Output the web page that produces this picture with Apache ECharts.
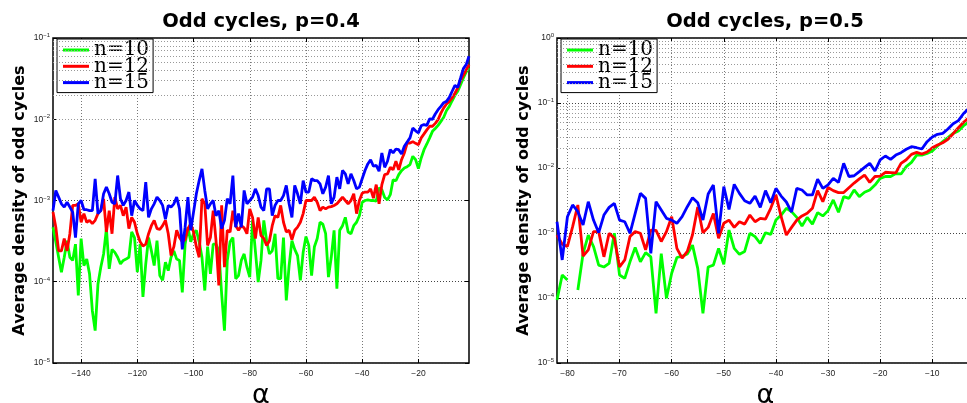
<!DOCTYPE html>
<html>
<head>
<meta charset="utf-8">
<script src="https://cdn.jsdelivr.net/npm/echarts@6/dist/echarts.min.js"></script>
<style>
  html, body { margin: 0; padding: 0; background: #fff; }
  #chart { width: 967px; height: 403px; }
</style>
</head>
<body>
<div id="chart"></div>
<script>
// Legend entries and line colours (graph size n)
const seriesNames = ['n=10', 'n=12', 'n=15'];
const seriesColors = ['#00ff00', '#ff0000', '#0000ff'];

// alpha sample points: p=0.4 runs from -150 to -2, p=0.5 from -82 to -2
const alphaLeft = [];
for (let a = -150; a <= -2; a++) alphaLeft.push(a);
const alphaRight = [];
for (let a = -82; a <= -2; a++) alphaRight.push(a);

// Tick positions on the alpha axes
const xTicksLeft = [-140, -120, -100, -80, -60, -40, -20];
const xTicksRight = [-80, -70, -60, -50, -40, -30, -20, -10];

// Average density of odd cycles, p = 0.4
const leftN10 = [
  4.7e-4, 3.1e-4, 2.0e-4, 1.31e-4, 2.0e-4, 3.2e-4, 2.0e-4, 1.83e-4, 2.9e-4, 6.8e-5,
  3.4e-4, 1.58e-4, 1.9e-4, 1.25e-4, 4.4e-5, 2.5e-5, 9.4e-5, 1.51e-4, 2.2e-4, 4.5e-4,
  1.44e-4, 2.5e-4, 2.3e-4, 2.0e-4, 1.66e-4, 1.83e-4, 1.9e-4, 2.0e-4, 4.1e-4, 3.5e-4,
  1.31e-4, 2.9e-4, 6.5e-5, 1.66e-4, 3.5e-4, 2.4e-4, 1.58e-4, 3.2e-4, 1.19e-4, 1.04e-4,
  1.74e-4, 1.37e-4, 2.0e-4, 2.4e-4, 1.9e-4, 1.83e-4, 7.4e-5, 2.9e-4, 4.7e-4, 3.1e-4,
  3.9e-4, 4.3e-4, 3.1e-4, 2.0e-4, 7.8e-5, 2.7e-4, 1.25e-4, 2.9e-4, 2.9e-4, 2.4e-4,
  7.1e-5, 2.5e-5, 1.83e-4, 3.1e-4, 3.5e-4, 1.09e-4, 1.19e-4, 1.83e-4, 2.2e-4, 1.51e-4,
  1.14e-4, 5.7e-4, 2.4e-4, 9.9e-5, 1.83e-4, 5.7e-4, 3.2e-4, 2.2e-4, 2.4e-4, 3.9e-4,
  1.09e-4, 1.09e-4, 3.5e-4, 5.9e-5, 1.58e-4, 3.2e-4, 2.5e-4, 2.1e-4, 1.04e-4, 2.3e-4,
  3.6e-4, 2.8e-4, 1.19e-4, 2.7e-4, 3.4e-4, 5.4e-4, 5.1e-4, 3.9e-4, 1.14e-4, 2.0e-4,
  4.3e-4, 8.2e-5, 4.3e-4, 4.9e-4, 6.2e-4, 4.1e-4, 3.9e-4, 4.9e-4, 5.4e-4, 6.5e-4,
  9.5e-4, 1.0e-3, 1.02e-3, 1.0e-3, 1.0e-3, 9.8e-4, 1.43e-3, 1.36e-3, 1.09e-3, 1.02e-3,
  1.18e-3, 1.8e-3, 1.75e-3, 2.08e-3, 2.33e-3, 2.51e-3, 2.61e-3, 2.76e-3, 3.5e-3, 3.18e-3,
  2.47e-3, 3.34e-3, 4.22e-3, 4.96e-3, 5.9e-3, 7.1e-3, 7.7e-3, 8.4e-3, 9.4e-3, 1.06e-2,
  1.28e-2, 1.44e-2, 1.69e-2, 1.97e-2, 2.21e-2, 2.67e-2, 3.22e-2, 3.82e-2, 4.28e-2
];
const leftN12 = [
  7.2e-4, 4.7e-4, 2.4e-4, 2.4e-4, 3.4e-4, 2.4e-4, 3.9e-4, 8.7e-4, 8.7e-4, 9.1e-4,
  5.4e-4, 6.9e-4, 5.4e-4, 5.7e-4, 5.2e-4, 5.7e-4, 6.9e-4, 7.5e-4, 1.05e-3, 4.1e-4,
  7.5e-4, 3.9e-4, 1.1e-3, 7.9e-4, 8.7e-4, 6.5e-4, 8.3e-4, 4.5e-4, 6.2e-4, 5.4e-4,
  3.9e-4, 3.1e-4, 2.75e-4, 2.9e-4, 3.9e-4, 4.9e-4, 5.7e-4, 4.5e-4, 4.4e-4, 4.9e-4,
  5.7e-4, 3.9e-4, 2.1e-4, 2.7e-4, 4.3e-4, 3.5e-4, 3.1e-4, 3.3e-4, 4.5e-4, 5.2e-4,
  4.1e-4, 2.7e-4, 2.0e-4, 1.05e-3, 9.1e-4, 2.8e-4, 3.5e-4, 7.5e-4, 3.2e-4, 9.0e-5,
  8.7e-4, 1.51e-4, 4.3e-4, 4.1e-4, 7.5e-4, 4.9e-4, 4.3e-4, 4.9e-4, 4.6e-4, 3.9e-4,
  7.9e-4, 6.2e-4, 3.4e-4, 6.2e-4, 3.7e-4, 3.4e-4, 2.8e-4, 3.2e-4, 4.9e-4, 6.5e-4,
  6.2e-4, 8.7e-4, 5.4e-4, 4.1e-4, 4.3e-4, 3.3e-4, 4.3e-4, 4.7e-4, 5.4e-4, 6.9e-4,
  1.0e-3, 1.0e-3, 1.0e-3, 1.1e-3, 9.5e-4, 7.5e-4, 8.3e-4, 7.9e-4, 8.3e-4, 8.4e-4,
  8.7e-4, 9.1e-4, 1.0e-3, 1.1e-3, 1.0e-3, 9.1e-4, 1.0e-3, 1.21e-3, 6.9e-4, 1.0e-3,
  1.23e-3, 1.27e-3, 1.27e-3, 1.39e-3, 1.07e-3, 1.57e-3, 9.1e-4, 1.57e-3, 2.08e-3, 2.12e-3,
  2.56e-3, 2.39e-3, 3.04e-3, 2.39e-3, 3.18e-3, 3.85e-3, 5.1e-3, 5.1e-3, 5.3e-3, 5.05e-3,
  4.86e-3, 5.9e-3, 6.6e-3, 7.4e-3, 8.2e-3, 8.2e-3, 8.9e-3, 9.9e-3, 1.19e-2, 1.38e-2,
  1.54e-2, 1.66e-2, 1.83e-2, 2.09e-2, 2.43e-2, 2.99e-2, 3.47e-2, 4.04e-2, 4.7e-2
];
const leftN15 = [
  7.5e-4, 1.33e-3, 1.1e-3, 9.1e-4, 8.3e-4, 9.5e-4, 8.3e-4, 7.2e-4, 3.5e-4, 9.1e-4,
  1.0e-3, 7.7e-4, 7.7e-4, 7.5e-4, 7.5e-4, 1.85e-3, 6.9e-4, 7.5e-4, 1.21e-3, 1.46e-3,
  1.21e-3, 9.5e-4, 9.1e-4, 2.03e-3, 1.05e-3, 8.7e-4, 1.0e-3, 1.27e-3, 6.5e-4, 1.0e-3,
  8.7e-4, 7.9e-4, 7.5e-4, 1.68e-3, 6.2e-4, 7.9e-4, 9.1e-4, 1.1e-3, 1.0e-3, 8.7e-4,
  5.9e-4, 8.7e-4, 8.3e-4, 9.1e-4, 1.1e-3, 7.9e-4, 2.5e-4, 4.7e-4, 1.1e-3, 4.3e-4,
  7.2e-4, 1.21e-3, 1.76e-3, 2.45e-3, 1.33e-3, 7.9e-4, 9.1e-4, 1.0e-3, 6.5e-4, 7.5e-4,
  4.5e-4, 5.7e-4, 1.05e-3, 9.1e-4, 2.03e-3, 4.7e-4, 6.9e-4, 4.7e-4, 1.33e-3, 9.1e-4,
  1.0e-3, 1.1e-3, 1.39e-3, 1.15e-3, 8.3e-4, 7.5e-4, 1.39e-3, 1.39e-3, 6.5e-4, 8.7e-4,
  1.0e-3, 1.0e-3, 1.15e-3, 1.53e-3, 9.1e-4, 6.2e-4, 1.53e-3, 1.21e-3, 9.1e-4, 1.76e-3,
  1.27e-3, 1.27e-3, 1.85e-3, 1.76e-3, 1.76e-3, 1.6e-3, 1.21e-3, 1.46e-3, 2.03e-3, 9.1e-4,
  1.1e-3, 1.94e-3, 1.39e-3, 2.34e-3, 2.13e-3, 1.6e-3, 2.13e-3, 1.76e-3, 1.39e-3, 1.46e-3,
  1.85e-3, 2.34e-3, 2.82e-3, 3.18e-3, 2.64e-3, 2.71e-3, 2.29e-3, 3.85e-3, 2.56e-3, 3.04e-3,
  4.22e-3, 3.85e-3, 4.3e-3, 4.22e-3, 3.74e-3, 4.64e-3, 5.25e-3, 5.9e-3, 7.8e-3, 7.2e-3,
  6.8e-3, 8.3e-3, 8.6e-3, 8.4e-3, 1.01e-2, 1.0e-2, 1.16e-2, 1.31e-2, 1.44e-2, 1.6e-2,
  1.66e-2, 1.86e-2, 2.21e-2, 2.61e-2, 2.47e-2, 3.22e-2, 4.2e-2, 4.7e-2, 5.95e-2
];

// Average density of odd cycles, p = 0.5 (null: no odd cycles found, not drawn on a log axis)
const rightN10 = [
  9.3e-5, 2.26e-4, 1.89e-4, null, 1.33e-4, 4.8e-4, 9.3e-4, 6.2e-4, 3.2e-4, 3.0e-4,
  3.4e-4, 9.9e-4, 2.26e-4, 2.0e-4, 3.6e-4, 6.0e-4, 3.6e-4, 5.0e-4, 4.3e-4, 5.8e-5,
  4.8e-4, 9.9e-5, 2.4e-4, 4.2e-4, 4.4e-4, 4.75e-4, 6.5e-4, 2.86e-4, 5.8e-5, 3.0e-4,
  3.2e-4, 5.8e-4, 3.3e-4, 1.11e-3, 5.8e-4, 4.7e-4, 5.2e-4, 9.9e-4, 8.8e-4, 6.9e-4,
  1.01e-3, 9.5e-4, 1.58e-3, 1.89e-3, 2.4e-3, 2.13e-3, 1.74e-3, 1.28e-3, 1.74e-3, 1.37e-3,
  2.06e-3, 1.83e-3, 2.21e-3, 3.22e-3, 2.08e-3, 3.62e-3, 3.41e-3, 4.59e-3, 3.62e-3, 4.23e-3,
  4.59e-3, 5.47e-3, 6.9e-3, 7.4e-3, 7.4e-3, 8.2e-3, 8.1e-3, 1.05e-2, 1.22e-2, 1.58e-2,
  1.58e-2, 1.68e-2, 1.83e-2, 2.18e-2, 2.54e-2, 2.93e-2, 3.41e-2, 3.71e-2, 4.48e-2, 5.1e-2,
  5.5e-2
];
const rightN12 = [
  9.3e-4, 6.7e-4, 6.2e-4, 1.25e-3, 2.7e-3, 4.4e-4, 5.5e-4, 1.05e-3, 1.05e-3, 4.3e-4,
  9.9e-4, 8.3e-4, 3.0e-4, 3.85e-4, 8.8e-4, 1.05e-3, 9.9e-4, 5.5e-4, 1.11e-3, 1.1e-3,
  7.4e-4, 1.05e-3, 1.78e-3, 5.8e-4, 4.1e-4, 5.2e-4, 9.4e-4, 2.5e-3, 1.01e-3, 1.22e-3,
  2.0e-3, 8.3e-4, 1.41e-3, 1.58e-3, 1.22e-3, 1.49e-3, 1.37e-3, 1.89e-3, 1.49e-3, 1.68e-3,
  1.63e-3, 2.4e-3, 3.85e-3, 1.78e-3, 9.3e-4, 1.22e-3, 1.58e-3, 1.83e-3, 2.01e-3, 2.4e-3,
  4.48e-3, 3.03e-3, 5.0e-3, 4.48e-3, 4.18e-3, 4.2e-3, 4.98e-3, 5.87e-3, 6.8e-3, 7.8e-3,
  6.0e-3, 7.4e-3, 7.5e-3, 8.6e-3, 8.5e-3, 8.4e-3, 1.18e-2, 1.34e-2, 1.62e-2, 1.74e-2,
  1.64e-2, 1.76e-2, 2.05e-2, 2.26e-2, 2.45e-2, 2.76e-2, 3.37e-2, 4.17e-2, 5.05e-2, 5.9e-2,
  6.4e-2
];
const rightN15 = [
  1.49e-3, 3.85e-4, 1.78e-3, 2.7e-3, 2.13e-3, 1.33e-3, 3.03e-3, 1.58e-3, 1.01e-3, 1.89e-3,
  2.48e-3, 2.86e-3, 1.58e-3, 1.49e-3, 9.9e-4, 2.01e-3, 4.07e-3, 3.41e-3, 4.86e-4, 3.03e-3,
  2.26e-3, 1.68e-3, 1.58e-3, 1.41e-3, 1.78e-3, 2.54e-3, 3.5e-3, 2.93e-3, 1.58e-3, 3.98e-3,
  5.47e-3, 9.9e-4, 5.16e-3, 2.31e-3, 5.6e-3, 4.07e-3, 3.14e-3, 2.86e-3, 3.7e-3, 2.48e-3,
  4.48e-3, 2.93e-3, 4.86e-3, 3.7e-3, 3.0e-3, 2.1e-3, 4.86e-3, 4.59e-3, 3.85e-3, 3.85e-3,
  6.7e-3, 4.86e-3, 5.5e-3, 6.9e-3, 6.0e-3, 1.18e-2, 7.4e-3, 7.6e-3, 8.8e-3, 1.02e-2,
  1.18e-2, 9.0e-3, 1.33e-2, 1.53e-2, 1.36e-2, 1.58e-2, 1.72e-2, 1.94e-2, 2.13e-2, 2.05e-2,
  1.96e-2, 2.54e-2, 3.0e-2, 3.3e-2, 3.41e-2, 3.98e-2, 4.8e-2, 5.35e-2, 6.9e-2, 8.2e-2,
  8.6e-2
];

const chart = echarts.init(document.getElementById('chart'), null, { renderer: 'canvas' });

const labelFont = 'Liberation Sans';
const pairs = (xs, ys) => xs.map((x, i) => [x, ys[i]]);

// 10^k labels for the log axes
function powerLabel(v) {
  const k = Math.round(Math.log10(v));
  const exp = k < 0 ? '\u2212' + (-k) : String(k);
  return '{b|10}{s|' + exp + '}';
}

// dotted minor grid rows at 2..9 x 10^k
function minorRows(kMin, kMax) {
  const rows = [];
  for (let k = kMin; k < kMax; k++) {
    for (let m = 2; m <= 9; m++) rows.push({ yAxis: m * Math.pow(10, k) });
  }
  return rows;
}

function xAxisPair(gridIndex, min, max, ticks) {
  const base = {
    type: 'value', gridIndex, min, max,
    axisLine: { show: false },
    axisTick: { show: true, inside: true, length: 4, customValues: ticks, lineStyle: { color: '#000', width: 1 } }
  };
  return [
    Object.assign({}, base, {
      position: 'bottom',
      name: '\u03b1', nameLocation: 'middle', nameGap: -1,
      nameTextStyle: { fontFamily: 'DejaVu Sans', fontSize: 27, color: '#000', verticalAlign: 'top' },
      axisLabel: {
        show: true, customValues: ticks, margin: 6,
        fontFamily: labelFont, fontSize: 8.5, color: '#222',
        formatter: v => (v < 0 ? '\u2212' + (-v) : String(v))
      },
      splitLine: { show: true, lineStyle: { color: '#777', type: [1, 2], width: 1 } }
    }),
    Object.assign({}, base, { position: 'top', axisLabel: { show: false }, splitLine: { show: false } })
  ];
}

function yAxisPair(gridIndex, min, max) {
  const base = {
    type: 'log', logBase: 10, gridIndex, min, max,
    axisLine: { show: false },
    axisTick: { show: true, inside: true, length: 4, lineStyle: { color: '#000', width: 1 } }
  };
  return [
    Object.assign({}, base, {
      position: 'left',
      name: 'Average density of odd cycles', nameLocation: 'middle', nameGap: 25, nameRotate: 90,
      nameTextStyle: { fontFamily: 'DejaVu Sans', fontWeight: 'bold', fontSize: 16, color: '#000' },
      axisLabel: {
        show: true, margin: 3, formatter: powerLabel,
        rich: {
          b: { fontFamily: labelFont, fontSize: 8.5, color: '#222', lineHeight: 11 },
          s: { fontFamily: labelFont, fontSize: 6, color: '#222', verticalAlign: 'top', lineHeight: 8 }
        }
      },
      splitLine: { show: true, lineStyle: { color: '#444', type: [1, 2], width: 1 } }
    }),
    Object.assign({}, base, { position: 'right', axisLabel: { show: false }, splitLine: { show: false } })
  ];
}

function panelSeries(xIdx, yIdx, alphas, cols, kMin, kMax) {
  const list = [{
    type: 'line', xAxisIndex: xIdx, yAxisIndex: yIdx, data: [], z: 1, silent: true,
    markLine: {
      silent: true, symbol: ['none', 'none'], animation: false,
      label: { show: false },
      lineStyle: { color: '#999', type: [1, 2], width: 1 },
      data: minorRows(kMin, kMax)
    }
  }];
  cols.forEach((col, i) => {
    list.push({
      name: seriesNames[i], type: 'line', xAxisIndex: xIdx, yAxisIndex: yIdx,
      data: pairs(alphas, col), showSymbol: false, symbol: 'none', connectNulls: false,
      color: seriesColors[i], lineStyle: { color: seriesColors[i], width: 2.8 }, z: 3 + i
    });
  });
  return list;
}

function legendAt(left) {
  return {
    data: seriesNames, orient: 'vertical', left, top: 39,
    backgroundColor: '#fff', borderColor: '#000', borderWidth: 1,
    padding: [1, 4, 0, 6], itemGap: -3.7, itemWidth: 26, itemHeight: 3,
    icon: 'rect', selectedMode: false,
    textStyle: { fontFamily: 'DejaVu Serif', fontSize: 20, color: '#000' }
  };
}

function titleAt(text, center) {
  return {
    text, left: center, top: 12, textAlign: 'center', padding: 0,
    textStyle: { fontFamily: 'DejaVu Sans', fontWeight: 'bold', fontSize: 19.5, color: '#000' }
  };
}

const gridBase = { top: 38, height: 325, show: true, borderColor: '#000', borderWidth: 1.5, backgroundColor: '#fff', outerBoundsMode: 'none', containLabel: false };

const option = {
  animation: false,
  backgroundColor: '#fff',
  title: [titleAt('Odd cycles, p=0.4', 261), titleAt('Odd cycles, p=0.5', 765)],
  legend: [legendAt(57), legendAt(561)],
  grid: [
    Object.assign({}, gridBase, { left: 53, width: 416 }),
    Object.assign({}, gridBase, { left: 557, width: 417 })
  ],
  xAxis: [].concat(xAxisPair(0, -150, -2, xTicksLeft), xAxisPair(1, -82, -2, xTicksRight)),
  yAxis: [].concat(yAxisPair(0, 1e-5, 1e-1), yAxisPair(1, 1e-5, 1)),
  series: [].concat(
    panelSeries(0, 0, alphaLeft, [leftN10, leftN12, leftN15], -5, -1),
    panelSeries(2, 2, alphaRight, [rightN10, rightN12, rightN15], -5, 0)
  )
};

chart.setOption(option);
</script>
</body>
</html>
